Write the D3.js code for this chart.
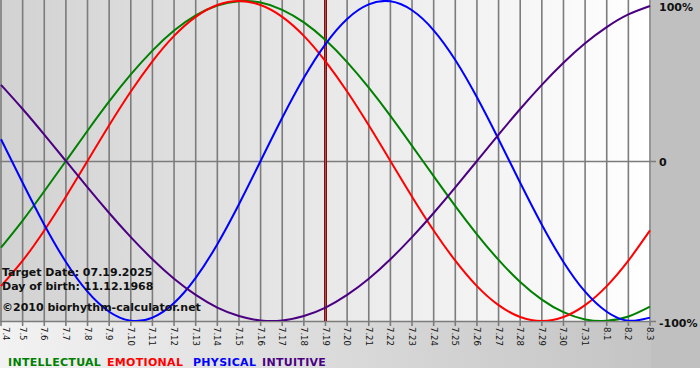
<!DOCTYPE html>
<html>
<head>
<meta charset="utf-8">
<script src="https://cdn.jsdelivr.net/npm/d3@7"></script>
<style>
  body { margin: 0; background: #fff; }
  svg { display: block; font-family: "DejaVu Sans", Verdana, sans-serif; }
</style>
</head>
<body>
<div class="bio"></div>
<script>
// day labels (month.day)
const days = ["7.4","7.5","7.6","7.7","7.8","7.9","7.10","7.11","7.12","7.13","7.14","7.15",
  "7.16","7.17","7.18","7.19","7.20","7.21","7.22","7.23","7.24","7.25","7.26","7.27",
  "7.28","7.29","7.30","7.31","8.1","8.2","8.3"];

// cycle values, -1..1
const intellectual = [-0.541,-0.372,-0.189,0,0.189,0.372,0.541,0.690,0.815,0.910,0.972,0.999,0.990,
  0.945,0.866,0.756,0.618,0.458,0.282,0.095,-0.095,-0.282,-0.458,-0.618,-0.756,-0.866,-0.945,-0.990,
  -0.999,-0.972,-0.910];
const emotional = [-0.782,-0.623,-0.434,-0.223,0,0.223,0.434,0.623,0.782,0.901,0.975,1,0.975,0.901,
  0.782,0.623,0.434,0.223,0,-0.223,-0.434,-0.623,-0.782,-0.901,-0.975,-1,-0.975,-0.901,-0.782,
  -0.623,-0.434];
const physical = [0.136,-0.136,-0.398,-0.631,-0.817,-0.942,-0.998,-0.979,-0.888,-0.731,-0.520,-0.270,
  0,0.270,0.520,0.731,0.888,0.979,0.998,0.942,0.817,0.631,0.398,0.136,-0.136,-0.398,-0.631,-0.817,
  -0.942,-0.998,-0.979];
const intuitive = [0.476,0.325,0.165,0,-0.165,-0.325,-0.476,-0.614,-0.736,-0.837,-0.916,-0.969,-0.997,
  -0.997,-0.969,-0.916,-0.837,-0.736,-0.614,-0.476,-0.325,-0.165,0,0.165,0.325,0.476,0.614,0.736,
  0.837,0.916,0.969];

const seriesNames = ["INTELLECTUAL", "EMOTIONAL", "PHYSICAL", "INTUITIVE"];
const seriesColors = ["#008000", "#ff0000", "#0000ff", "#4b0082"];
const seriesData = [intellectual, emotional, physical, intuitive];

const yTicks = [1, 0, -1];
const yTickLabels = ["100%", "0", "-100%"];
const targetDay = "7.19";
const infoLines = ["Target Date: 07.19.2025", "Day of birth: 11.12.1968"];
const copyright = "\u00a92010 biorhythm-calculator.net";

const W = 700, H = 380;
const plot = { left: 0, right: 651, top: 0, bottom: 321 };

const svg = d3.select(".bio").append("svg").attr("width", W).attr("height", H);
const defs = svg.append("defs");

const gPlot = defs.append("linearGradient").attr("id", "gPlot");
gPlot.append("stop").attr("offset", "0%").attr("stop-color", "#d2d2d2");
gPlot.append("stop").attr("offset", "100%").attr("stop-color", "#ffffff");

const gFoot = defs.append("linearGradient").attr("id", "gFoot");
gFoot.append("stop").attr("offset", "0%").attr("stop-color", "#f2f2f2");
gFoot.append("stop").attr("offset", "100%").attr("stop-color", "#c4c4c4");

defs.append("clipPath").attr("id", "clip")
  .append("rect").attr("x", plot.left).attr("y", plot.top)
  .attr("width", plot.right - plot.left).attr("height", plot.bottom - plot.top);

// backgrounds
svg.append("rect").attr("x", 0).attr("y", 0).attr("width", W).attr("height", 368).attr("fill", "#c0c0c0");
svg.append("rect").attr("x", 0).attr("y", plot.bottom).attr("width", plot.right).attr("height", 368 - plot.bottom)
  .attr("fill", "url(#gFoot)");
svg.append("rect").attr("x", plot.left).attr("y", plot.top)
  .attr("width", plot.right - plot.left).attr("height", plot.bottom - plot.top)
  .attr("fill", "url(#gPlot)");

// scales
const x = d3.scalePoint().domain(days).range([1, 650]);
const y = d3.scaleLinear().domain([-1, 1]).range([plot.bottom, 1]);

// vertical grid + ticks
svg.append("g")
  .selectAll("line")
  .data(days)
  .enter()
  .append("line")
  .attr("x1", (d) => x(d))
  .attr("x2", (d) => x(d))
  .attr("y1", plot.top)
  .attr("y2", plot.bottom + 5)
  .attr("stroke", "#7c7c7c")
  .attr("stroke-width", 1.6);

// horizontal lines (0 and bottom)
svg.append("g")
  .selectAll("line")
  .data([0, -1])
  .enter()
  .append("line")
  .attr("x1", plot.left)
  .attr("x2", plot.right + 5)
  .attr("y1", (d) => Math.round(y(d)) + 0.5)
  .attr("y2", (d) => Math.round(y(d)) + 0.5)
  .attr("stroke", "#7c7c7c")
  .attr("stroke-width", 1.6);

// x labels, rotated
svg.append("g")
  .selectAll("text")
  .data(days)
  .enter()
  .append("text")
  .attr("transform", (d) => "translate(" + Math.max(x(d) - 3, 2.5) + "," + (plot.bottom + 6) + ") rotate(90)")
  .text((d) => d)
  .style("font-size", "8.5px")
  .style("fill", "#111");

// y labels on the right
const yLabelBase = [11, 166, 327];
svg.append("g")
  .selectAll("text")
  .data(yTicks)
  .enter()
  .append("text")
  .attr("x", 659)
  .attr("y", (d, i) => yLabelBase[i])
  .text((d, i) => yTickLabels[i])
  .style("font-size", "11px")
  .style("font-weight", "bold")
  .style("fill", "#111");

// target date marker
svg.append("line")
  .attr("x1", x(targetDay)).attr("x2", x(targetDay))
  .attr("y1", plot.top).attr("y2", plot.bottom)
  .attr("stroke", "#7a1010")
  .attr("stroke-width", 3);
svg.append("line")
  .attr("x1", x(targetDay)).attr("x2", x(targetDay))
  .attr("y1", plot.top).attr("y2", plot.bottom)
  .attr("stroke", "#c06060")
  .attr("stroke-width", 0.8);

// curves
const line = d3.line()
  .x((d, i) => x(days[i]))
  .y((d) => y(d))
  .curve(d3.curveNatural);

svg.append("g")
  .attr("clip-path", "url(#clip)")
  .selectAll("path")
  .data(seriesData)
  .enter()
  .append("path")
  .attr("d", line)
  .attr("fill", "none")
  .attr("stroke", (d, i) => seriesColors[i])
  .attr("stroke-width", 2);

// info text
svg.append("g")
  .selectAll("text")
  .data(infoLines.concat([copyright]))
  .enter()
  .append("text")
  .attr("x", 2)
  .attr("y", (d, i) => [276, 290, 311][i])
  .text((d) => d)
  .style("font-size", "11px")
  .style("font-weight", "bold")
  .style("fill", "#111");

// legend
const legendX = [8, 107, 193, 262];
svg.append("g")
  .selectAll("text")
  .data(seriesNames)
  .enter()
  .append("text")
  .attr("x", (d, i) => legendX[i])
  .attr("y", 366)
  .text((d) => d)
  .style("font-size", "11px")
  .style("font-weight", "bold")
  .style("letter-spacing", "0.3px")
  .style("fill", (d, i) => seriesColors[i]);
</script>
</body>
</html>
